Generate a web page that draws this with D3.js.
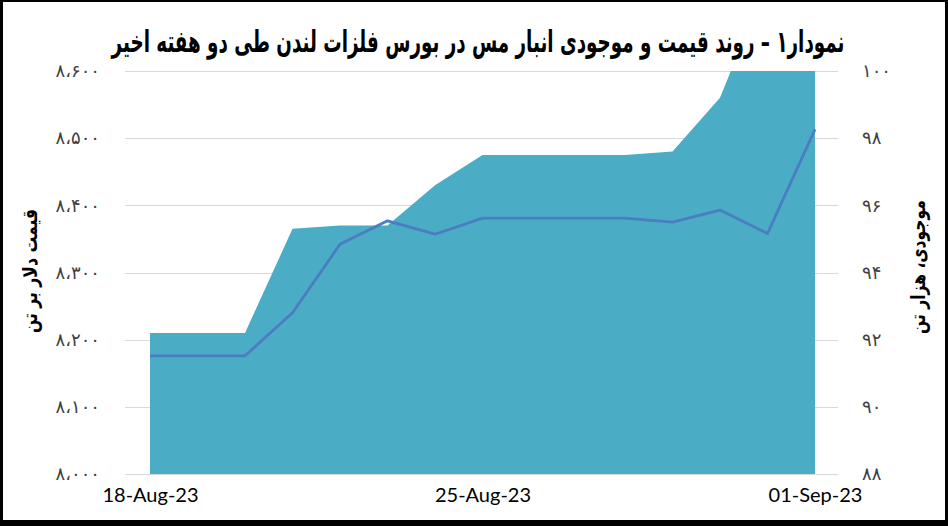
<!DOCTYPE html>
<html>
<head>
<meta charset="utf-8">
<script src="https://cdn.jsdelivr.net/npm/d3@7/dist/d3.min.js"></script>
<style>
  html, body { margin: 0; padding: 0; background: #fff; }
  svg { display: block; }
</style>
</head>
<body>
<svg id="chart" width="948" height="526"></svg>
<script>
// ---- data ----
const dates = ["2023-08-18","2023-08-19","2023-08-20","2023-08-21","2023-08-22","2023-08-23","2023-08-24",
               "2023-08-25","2023-08-26","2023-08-27","2023-08-28","2023-08-29","2023-08-30","2023-08-31","2023-09-01"];
// copper price, USD per tonne (left axis, line)
const price = [8176, 8176, 8176, 8240, 8342, 8377, 8357, 8381, 8381, 8381, 8381, 8375, 8393, 8358, 8513];
// warehouse stocks, thousand tonnes (right axis, area)
const stocks = [92.2, 92.2, 92.2, 95.3, 95.4, 95.4, 96.6, 97.5, 97.5, 97.5, 97.5, 97.6, 99.2, 102.7, 103.0];
const leftTicks = [8000, 8100, 8200, 8300, 8400, 8500, 8600];
const rightTicks = [88, 90, 92, 94, 96, 98, 100];
const xTickDates = ["2023-08-18", "2023-08-25", "2023-09-01"];
const title = "نمودار۱ – روند قیمت و موجودی انبار مس در بورس فلزات لندن طی دو هفته اخیر";
const leftTitle = "قیمت دلار بر تن";
const rightTitle = "موجودی، هزار تن";

// ---- helpers ----
const fa = s => String(s).replace(/[0-9]/g, d => "۰۱۲۳۴۵۶۷۸۹"[+d]).replace(/,/g, "،");
const parse = d3.timeParse("%Y-%m-%d");
const rows = dates.map((d, i) => ({ date: parse(d), price: price[i], stock: stocks[i] }));

const svg = d3.select("#chart");
const W = 948, H = 526;

// frame
svg.append("rect").attr("x", 0).attr("y", 0).attr("width", W).attr("height", H).attr("fill", "#000");
svg.append("rect").attr("x", 3).attr("y", 2).attr("width", 942).attr("height", 518).attr("fill", "#fff");

const x = d3.scaleTime().domain([parse(dates[0]), parse(dates[dates.length - 1])]).range([150, 815]);
const yL = d3.scaleLinear().domain([8000, 8600]).range([474, 71]);
const yR = d3.scaleLinear().domain([88, 100]).range([474, 71]);

// gridlines
svg.append("g").selectAll("line").data(leftTicks).join("line")
  .attr("x1", 125).attr("x2", 838)
  .attr("y1", d => Math.round(yL(d)) + 0.5).attr("y2", d => Math.round(yL(d)) + 0.5)
  .attr("stroke", "#d9d9d9").attr("stroke-width", 1);

// clip for plot area
svg.append("clipPath").attr("id", "plotclip").append("rect")
  .attr("x", 100).attr("y", yR(100)).attr("width", 760).attr("height", yR(88) - yR(100));

// area (stocks)
const area = d3.area().x(d => x(d.date)).y0(yR(88)).y1(d => yR(d.stock));
svg.append("path").datum(rows).attr("d", area)
  .attr("fill", "#4BACC6").attr("clip-path", "url(#plotclip)");

// line (price)
const line = d3.line().x(d => x(d.date)).y(d => yL(d.price));
svg.append("path").datum(rows).attr("d", line)
  .attr("fill", "none").attr("stroke", "#4A7DC2").attr("stroke-width", 2.8)
  .attr("stroke-linejoin", "round");

// left axis labels
const leftAxis = d3.axisLeft(yL).tickValues(leftTicks).tickSize(0).tickPadding(0)
  .tickFormat(d => fa(d3.format(",")(d)));
const gL = svg.append("g").attr("transform", "translate(100,0)").call(leftAxis);
gL.select(".domain").remove();
gL.selectAll("text").attr("font-family", "DejaVu Sans").attr("font-size", 18).attr("fill", "#404040");

// right axis labels
const rightAxis = d3.axisRight(yR).tickValues(rightTicks).tickSize(0).tickPadding(0)
  .tickFormat(d => fa(d));
const gR = svg.append("g").attr("transform", "translate(862,0)").call(rightAxis);
gR.select(".domain").remove();
gR.selectAll("text").attr("font-family", "DejaVu Sans").attr("font-size", 18).attr("fill", "#404040");

// bottom axis labels
const bottomAxis = d3.axisBottom(x).tickValues(xTickDates.map(parse)).tickSize(0).tickPadding(0)
  .tickFormat(d3.timeFormat("%d-%b-%y"));
const gB = svg.append("g").attr("transform", "translate(0,488)").call(bottomAxis);
gB.select(".domain").remove();
gB.selectAll("text").attr("font-family", "Lato, 'Open Sans', sans-serif").attr("font-size", 20).attr("fill", "#000");

// fit text horizontally into a given width by scaling
function fitText(sel, targetW) {
  const w = sel.node().getComputedTextLength();
  return w > 0 ? targetW / w : 1;
}

// title
const t = svg.append("text").attr("text-anchor", "middle")
  .attr("direction", "rtl").attr("font-family", "DejaVu Sans").attr("font-weight", "bold")
  .attr("font-size", 30).attr("fill", "#000").text(title);
const ts = fitText(t, 733);
t.attr("transform", `translate(478,52) scale(${ts},1)`);

// axis titles
const lt = svg.append("text").attr("text-anchor", "middle")
  .attr("direction", "rtl").attr("font-family", "DejaVu Sans").attr("font-weight", "bold")
  .attr("font-size", 20).attr("fill", "#000").text(leftTitle);
lt.attr("transform", `translate(37,271) rotate(-90) scale(${fitText(lt, 124)},1)`);
const rt = svg.append("text").attr("text-anchor", "middle")
  .attr("direction", "rtl").attr("font-family", "DejaVu Sans").attr("font-weight", "bold")
  .attr("font-size", 20).attr("fill", "#000").text(rightTitle);
rt.attr("transform", `translate(925,267) rotate(-90) scale(${fitText(rt, 134)},1)`);
</script>
</body>
</html>
